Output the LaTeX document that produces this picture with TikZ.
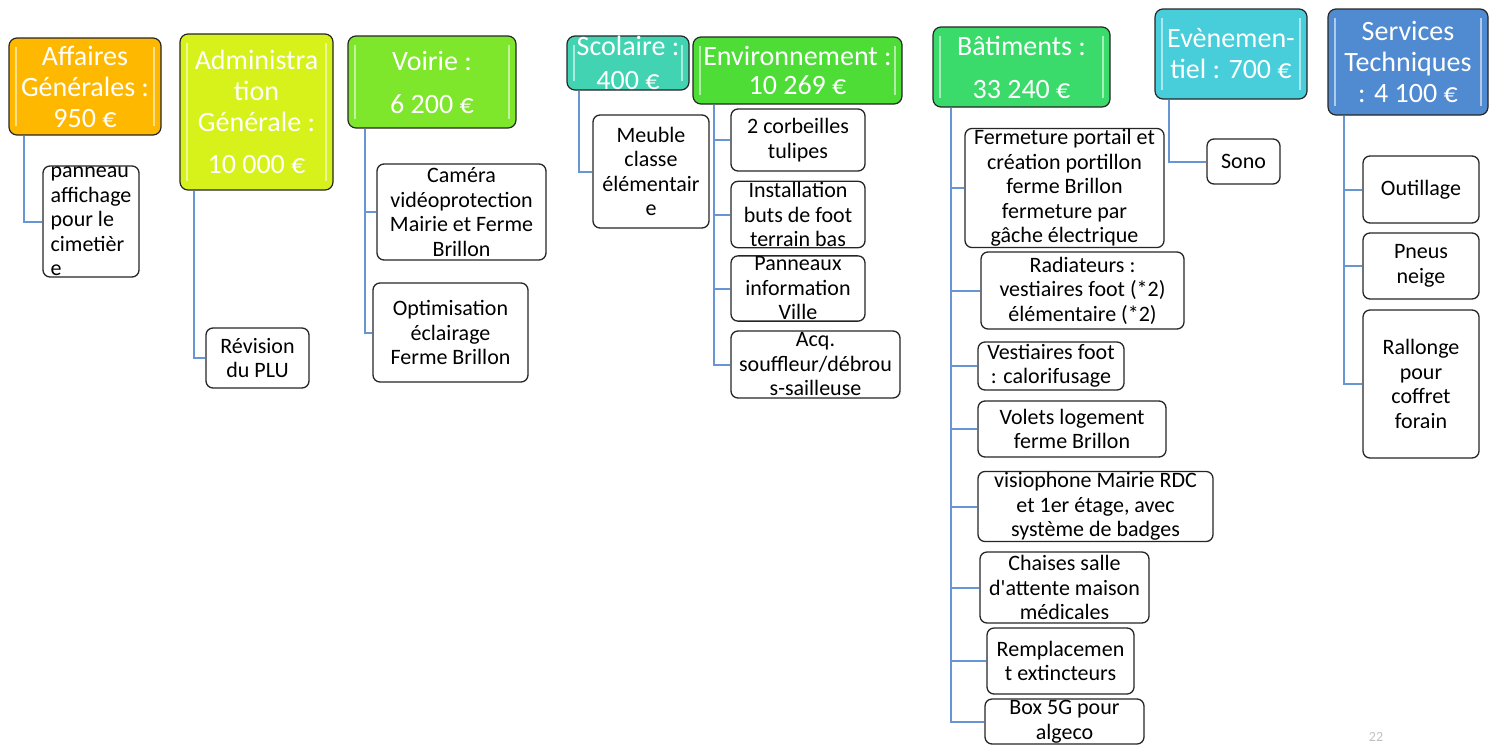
\documentclass[tikz,border=0pt]{standalone}
\usepackage{fontspec}
\setmainfont{Carlito}[Ligatures=TeXOff]
\definecolor{agcol}{RGB}{255,184,0}
\definecolor{admcol}{RGB}{214,242,26}
\definecolor{voicol}{RGB}{126,230,43}
\definecolor{scocol}{RGB}{66,212,178}
\definecolor{envcol}{RGB}{78,220,55}
\definecolor{batcol}{RGB}{58,219,106}
\definecolor{evcol}{RGB}{72,206,218}
\definecolor{stcol}{RGB}{80,138,208}
\definecolor{linkcol}{RGB}{104,150,212}
\tikzset{
  head/.style={draw=black!85, line width=1.2pt, rounded corners=8pt, text=white,
    inner sep=0pt, align=center, font=\fontsize{28}{31}\selectfont,
    path picture={
      \draw[white, opacity=0.55, line width=2.5pt]
        ([shift={(7pt,-9pt)}]path picture bounding box.north west) --
        ([shift={(7pt,9pt)}]path picture bounding box.south west);
      \draw[white, opacity=0.55, line width=2.5pt]
        ([shift={(-7pt,-9pt)}]path picture bounding box.north east) --
        ([shift={(-7pt,9pt)}]path picture bounding box.south east);
    }},
  item/.style={draw=black!85, line width=1.3pt, rounded corners=7pt, fill=white,
    inner sep=1pt, align=center, font=\fontsize{22}{24.5}\selectfont},
  link/.style={draw=linkcol, line width=2pt}
}
\begin{document}
\begin{tikzpicture}[x=1pt, y=-1pt]
    \useasboundingbox (0,0) rectangle (1491,745);

    % Budget lines
    \node[head, fill=agcol, minimum width=152pt, minimum height=97pt] (ag) at (85,86.5) {Affaires\\Générales :\\950 €};
    \node[head, fill=admcol, minimum width=153pt, minimum height=156pt] (adm) at (256.5,112) {Administra\\tion\\Générale :\\[11pt]10 000 €};
    \node[head, fill=voicol, minimum width=168pt, minimum height=92pt] (voi) at (432,82) {Voirie :\\[12pt]6 200 €};
    \node[head, fill=scocol, minimum width=122pt, minimum height=54pt] (sco) at (628,63) {Scolaire :\\[3pt]400 €};
    \node[head, fill=envcol, minimum width=209pt, minimum height=67pt] (env) at (797.5,70.5) {Environnement :\\[-2pt]10 269 €};
    \node[head, fill=batcol, minimum width=177pt, minimum height=80pt] (bat) at (1021.5,67) {Bâtiments :\\[12pt]33 240 €};
    \node[head, fill=evcol, minimum width=152pt, minimum height=90pt] (ev) at (1231,54) {Evènemen-\\tiel : 700 €};
    \node[head, fill=stcol, minimum width=160pt, minimum height=106pt] (st) at (1408,62) {Services\\Techniques\\: 4 100 €};

    % Items
    \node[item, align=left, minimum width=96pt, minimum height=111pt] (ag1) at (91,221.5) {panneau\\affichage\\pour le\\cimetièr\\e};
    \node[item, minimum width=103pt, minimum height=60pt] (adm1) at (257.5,358) {Révision\\du PLU};
    \node[item, minimum width=169pt, minimum height=96pt] (voi1) at (461.5,212) {Caméra\\vidéoprotection\\Mairie et Ferme\\Brillon};
    \node[item, minimum width=155pt, minimum height=99pt] (voi2) at (450.5,332.5) {Optimisation\\éclairage\\Ferme Brillon};
    \node[item, minimum width=116pt, minimum height=113pt] (sco1) at (651,171.5) {Meuble\\classe\\élémentair\\e};
    \node[item, minimum width=134pt, minimum height=62pt] (env1) at (798,140) {2 corbeilles\\tulipes};
    \node[item, minimum width=134pt, minimum height=65pt] (env2) at (798,214.5) {Installation\\buts de foot\\terrain bas};
    \node[item, minimum width=134pt, minimum height=63pt] (env3) at (798,288.5) {Panneaux\\information\\Ville};
    \node[item, minimum width=169pt, minimum height=67pt] (env4) at (815.5,364.5) {Acq.\\souffleur/débrou\\s-sailleuse};
    \node[item, minimum width=199pt, minimum height=114pt] (bat1) at (1064.5,188) {Fermeture portail et\\création portillon\\ferme Brillon\\fermeture par\\gâche électrique};
    \node[item, minimum width=203pt, minimum height=77pt] (bat2) at (1082.5,290.5) {Radiateurs :\\vestiaires foot (*2)\\élémentaire (*2)};
    \node[item, minimum width=146pt, minimum height=48pt] (bat3) at (1051,366) {Vestiaires foot\\: calorifusage};
    \node[item, minimum width=188pt, minimum height=56pt] (bat4) at (1072,429) {Volets logement\\ferme Brillon};
    \node[item, minimum width=235pt, minimum height=61pt] (bat5) at (1095.5,506.5) {visiophone Mairie RDC\\et 1er étage, avec\\système de badges};
    \node[item, minimum width=169pt, minimum height=71pt] (bat6) at (1064.5,587.5) {Chaises salle\\d'attente maison\\médicales};
    \node[item, minimum width=147pt, minimum height=66pt] (bat7) at (1060.5,661) {Remplacemen\\t extincteurs};
    \node[item, minimum width=159pt, minimum height=45pt] (bat8) at (1064.5,721.5) {Box 5G pour\\algeco};
    \node[item, minimum width=73pt, minimum height=45pt] (ev1) at (1243.5,161.5) {Sono};
    \node[item, minimum width=116pt, minimum height=67pt] (st1) at (1421,189.5) {Outillage};
    \node[item, minimum width=116pt, minimum height=66pt] (st2) at (1421,266) {Pneus\\neige};
    \node[item, minimum width=116pt, minimum height=148pt] (st3) at (1421,384) {Rallonge\\pour\\coffret\\forain};

    % Links
    \foreach \h/\c/\s in {ag/ag1/16, adm/adm1/15, voi/voi1/18, voi/voi2/18, sco/sco1/13,
                          env/env1/22, env/env2/22, env/env3/22, env/env4/22,
                          bat/bat1/19, bat/bat2/19, bat/bat3/19, bat/bat4/19,
                          bat/bat5/19, bat/bat6/19, bat/bat7/19, bat/bat8/19,
                          ev/ev1/15, st/st1/17, st/st2/17, st/st3/17} {
        \draw[link] ([xshift=\s pt]\h.south west) |- (\c.west);
    }

    % Page number
    \node[text=black!25, font=\fontsize{14}{16}\selectfont, anchor=south] (pg) at (1376,745) {22};
\end{tikzpicture}
\end{document}
